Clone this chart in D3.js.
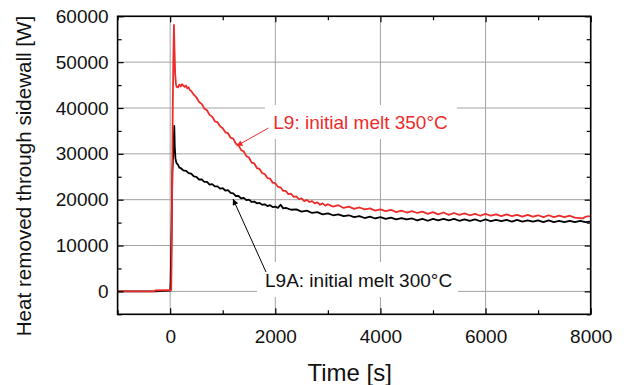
<!DOCTYPE html>
<html>
<head>
<meta charset="utf-8">
<script src="https://cdn.jsdelivr.net/npm/d3@7"></script>
<style>
  html, body { margin: 0; padding: 0; background: #fff; }
  svg { display: block; }
  text { font-family: "Liberation Sans", Arial, sans-serif; }
</style>
</head>
<body>
<svg id="chart" width="626" height="385"></svg>
<script>
// ---------------- data ----------------
const xTicks = [0, 2000, 4000, 6000, 8000];
const xMinorTicks = [-1000, 1000, 3000, 5000, 7000];
const yTicks = [0, 10000, 20000, 30000, 40000, 50000, 60000];
const yMinorTicks = [-5000, 5000, 15000, 25000, 35000, 45000, 55000];
const xLabel = "Time [s]";
const yLabel = "Heat removed through sidewall [W]";
const l9Label = "L9: initial melt 350°C";
const l9aLabel = "L9A: initial melt 300°C";

// L9 (red): time [s]
const l9Time = [-1000,-600,-300,-290,-100,0,20,30,40,50,60,72,82,95,110,124,
 150,175,200,225,250,275,300,325,350,375,400,450,500,550,600,650,700,750,800,850,
 900,950,1000,1050,1100,1150,1200,1250,1300,1350,1400,1450,1500,1550,1600,1650,
 1700,1750,1800,1850,1900,1950,2000,2050,2100,2150,2200,2250,2300,2350,2400,2450,
 2500,2550,2600,2650,2700,2750,2800,2850,2900,2950,3000,3100,3200,3300,3400,3500,
 3600,3700,3800,3900,4000,4100,4200,4300,4400,4500,4600,4700,4800,4900,5000,5100,
 5200,5300,5400,5500,5600,5700,5800,5900,6000,6100,6200,6300,6400,6500,6600,6700,
 6800,6900,7000,7100,7200,7300,7400,7500,7600,7700,7800,7850,7900,8000];
// L9 (red): heat [W]
const l9Power = [0,20,0,200,250,260,300,9000,26000,41000,50000,58100,53000,47500,45200,44600,
 44500,45100,44700,45200,44900,44600,44900,44300,44500,43900,43700,42900,42300,41300,40900,39900,39500,38500,38100,37100,
 36900,36000,35600,34700,34500,33500,33300,32200,31900,30800,30500,29500,29200,28100,27900,26900,
 26700,25800,25600,24700,24600,23700,23600,22800,22700,21900,21900,21200,21300,20600,20700,20100,
 20300,19700,19950,19500,19700,19200,19400,18900,19200,18700,19000,18500,18800,18200,18500,18000,
 18300,17900,18100,17600,17900,17500,17800,17300,17600,17200,17500,17100,17400,16900,17300,16800,
 17200,16700,17100,16700,17000,16600,16900,16500,16900,16500,16800,16400,16800,16400,16700,16300,
 16700,16300,16600,16200,16600,16200,16500,16200,16500,16100,16000,15900,16300,16400];

// L9A (black): time [s]
const l9aTime = [-1000,-300,0,8,20,32,42,52,62,78,88,100,120,
 150,175,200,250,300,350,400,450,500,550,600,650,700,750,800,850,900,950,1000,1050,
 1100,1150,1200,1250,1300,1350,1400,1450,1500,1550,1600,1650,1700,1750,1800,1850,
 1900,1950,2000,2050,2100,2150,2200,2300,2400,2500,2600,2700,2800,2900,3000,3100,
 3200,3300,3400,3500,3600,3700,3800,3900,4000,4100,4200,4300,4400,4500,4600,4700,
 4800,4900,5000,5100,5200,5300,5400,5500,5600,5700,5800,5900,6000,6100,6200,6300,
 6400,6500,6600,6700,6800,6900,7000,7100,7200,7300,7400,7500,7600,7700,7800,7900,8000];
// L9A (black): heat [W]
const l9aPower = [0,0,150,2000,9000,18000,26000,28500,31000,36100,31500,29000,28000,
 27600,27000,26900,26400,26300,25800,25700,25100,25000,24400,24400,23900,23900,23300,23400,22900,22900,22400,22500,22000,
 22100,21500,21400,20800,20800,20300,20400,19900,20000,19500,19600,19200,19300,18900,19000,18600,
 18800,18400,18500,18200,18900,18100,18200,17800,17900,17400,17600,17100,17300,16800,17000,16600,
 16800,16400,16600,16200,16400,16000,16300,15900,16200,15800,16100,15700,16000,15700,15900,15500,
 15800,15400,15800,15500,15800,15500,15800,15400,15700,15400,15700,15300,15700,15300,15600,15300,
 15600,15200,15600,15200,15500,15200,15500,15100,15500,15100,15400,15100,15400,15100,15400,15100,15200];

// ---------------- layout ----------------
const svg = d3.select("#chart");
const L = 117.6, R = 590.7, T = 16.3, B = 314.3;
const RED = "#ee2b2b";
const GRID = "#a3a3a3";

const x = d3.scaleLinear().domain([-1000, 8000]).range([L, R]);
const y = d3.scaleLinear().domain([-5000, 60000]).range([B, T]);

svg.append("rect").attr("width", 626).attr("height", 385).attr("fill", "#fff");

svg.append("defs").append("clipPath").attr("id", "plotclip")
  .append("rect").attr("x", L).attr("y", T).attr("width", R - L).attr("height", B - T);

// grid
const grid = svg.append("g");
grid.selectAll(".gx").data(xTicks).join("line")
  .attr("x1", d => x(d)).attr("x2", d => x(d)).attr("y1", T).attr("y2", B)
  .attr("stroke", GRID).attr("stroke-width", 1);
grid.selectAll(".gy").data(yTicks).join("line")
  .attr("x1", L).attr("x2", R).attr("y1", d => y(d)).attr("y2", d => y(d))
  .attr("stroke", GRID).attr("stroke-width", 1);

// label boxes (white backgrounds over the grid)
const boxes = svg.append("g");

// data lines
const line = d3.line().x(d => x(d[0])).y(d => y(d[1]));
const plot = svg.append("g").attr("clip-path", "url(#plotclip)");
plot.append("path").datum(l9aTime.map((t, i) => [t, l9aPower[i]]))
  .attr("d", line).attr("fill", "none").attr("stroke", "#000")
  .attr("stroke-width", 1.8).attr("stroke-linejoin", "round");
plot.append("path").datum(l9Time.map((t, i) => [t, l9Power[i]]))
  .attr("d", line).attr("fill", "none").attr("stroke", RED)
  .attr("stroke-width", 1.8).attr("stroke-linejoin", "round");

// axes (ticks pointing inward on all four sides)
function styleAxis(g) {
  g.select(".domain").remove();
  g.selectAll(".tick line").attr("stroke", "#000").attr("stroke-width", 1.2);
  g.selectAll("text").attr("font-family", '"Liberation Sans", Arial, sans-serif')
    .attr("font-size", 19).attr("fill", "#111");
}
svg.append("g").attr("transform", `translate(0,${B})`)
  .call(d3.axisBottom(x).tickValues(xTicks).tickSize(-6).tickPadding(15).tickFormat(d3.format("d")))
  .call(styleAxis);
svg.append("g").attr("transform", `translate(0,${B})`)
  .call(d3.axisBottom(x).tickValues(xMinorTicks).tickSize(-4).tickFormat(""))
  .call(styleAxis);
svg.append("g").attr("transform", `translate(0,${T})`)
  .call(d3.axisTop(x).tickValues(xTicks).tickSize(-6).tickFormat(""))
  .call(styleAxis);
svg.append("g").attr("transform", `translate(0,${T})`)
  .call(d3.axisTop(x).tickValues(xMinorTicks).tickSize(-4).tickFormat(""))
  .call(styleAxis);
svg.append("g").attr("transform", `translate(${L},0)`)
  .call(d3.axisLeft(y).tickValues(yTicks).tickSize(-6).tickPadding(9).tickFormat(d3.format("d")))
  .call(styleAxis);
svg.append("g").attr("transform", `translate(${L},0)`)
  .call(d3.axisLeft(y).tickValues(yMinorTicks).tickSize(-4).tickFormat(""))
  .call(styleAxis);
svg.append("g").attr("transform", `translate(${R},0)`)
  .call(d3.axisRight(y).tickValues(yTicks).tickSize(-6).tickFormat(""))
  .call(styleAxis);
svg.append("g").attr("transform", `translate(${R},0)`)
  .call(d3.axisRight(y).tickValues(yMinorTicks).tickSize(-4).tickFormat(""))
  .call(styleAxis);

// frame
svg.append("rect").attr("x", L).attr("y", T).attr("width", R - L).attr("height", B - T)
  .attr("fill", "none").attr("stroke", "#000").attr("stroke-width", 1.6);

// axis titles
svg.append("text").attr("x", 349.7).attr("y", 380.7).attr("text-anchor", "middle")
  .attr("font-size", 24).attr("fill", "#111").text(xLabel);
svg.append("text").attr("transform", "translate(31,176) rotate(-90)")
  .attr("text-anchor", "middle").attr("font-size", 20.6).attr("fill", "#111").text(yLabel);

// annotations
const defs = svg.select("defs");
function marker(id, color) {
  defs.append("marker").attr("id", id).attr("viewBox", "0 0 10 10")
    .attr("refX", 10).attr("refY", 5).attr("markerUnits", "userSpaceOnUse")
    .attr("markerWidth", 9).attr("markerHeight", 6).attr("orient", "auto")
    .append("path").attr("d", "M0,0 L10,5 L0,10 Z").attr("fill", color);
}
marker("arrRed", RED);
marker("arrBlk", "#000");

boxes.append("rect").attr("x", 265).attr("y", 105).attr("width", 192).attr("height", 34).attr("fill", "#fff");
boxes.append("rect").attr("x", 257).attr("y", 262).attr("width", 201).attr("height", 35).attr("fill", "#fff");

svg.append("line").attr("x1", 268.5).attr("y1", 128).attr("x2", 236.5).attr("y2", 146)
  .attr("stroke", RED).attr("stroke-width", 1).attr("marker-end", "url(#arrRed)");
svg.append("line").attr("x1", 266).attr("y1", 272).attr("x2", 233).attr("y2", 199)
  .attr("stroke", "#000").attr("stroke-width", 1).attr("marker-end", "url(#arrBlk)");

svg.append("text").attr("x", 273.3).attr("y", 129.3).attr("font-size", 19)
  .attr("fill", RED).text(l9Label);
svg.append("text").attr("x", 265).attr("y", 286.7).attr("font-size", 19)
  .attr("fill", "#111").text(l9aLabel);
</script>
</body>
</html>
